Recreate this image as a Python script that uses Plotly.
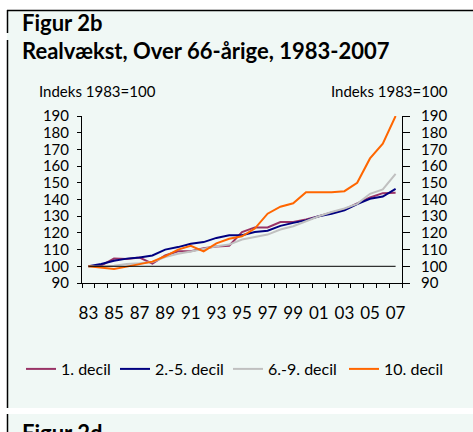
import plotly.graph_objects as go

# ---- data ----
years = list(range(1983, 2008))
decil_1 = [100, 100.4, 104.6, 104.4, 105.2, 101.6, 106.5, 109.0, 109.0, 110.8, 111.8, 112.3,
           120.5, 123.3, 123.3, 126.5, 126.6, 128.0, 130.0, 132.3, 134.0, 137.4, 141.2, 143.8, 144.0]
decil_2_5 = [100, 101.4, 103.3, 104.6, 105.3, 106.5, 110.0, 111.5, 113.5, 114.5, 117.0, 118.6,
             118.6, 120.5, 121.3, 124.2, 126.0, 127.5, 130.0, 131.5, 133.5, 137.3, 140.4, 141.8, 146.4]
decil_6_9 = [100, 99.8, 100.4, 101.4, 101.8, 102.6, 105.5, 107.5, 108.8, 110.3, 112.0, 113.0,
             116.0, 117.5, 119.0, 122.0, 124.0, 127.0, 130.0, 132.5, 134.6, 137.4, 143.4, 146.0, 155.4]
decil_10 = [100, 99.0, 98.4, 99.8, 101.4, 102.8, 106.0, 110.0, 112.3, 108.9, 113.7, 116.5,
            118.0, 122.6, 131.5, 135.7, 137.7, 144.4, 144.4, 144.4, 145.0, 150.0, 164.6, 173.4, 190.0]
base_index = 100
series_names = ["1. decil", "2.-5. decil", "6.-9. decil", "10. decil"]
tick_years = list(range(1983, 2008, 2))
tick_labels = ["83", "85", "87", "89", "91", "93", "95", "97", "99", "01", "03", "05", "07"]
y_ticks = list(range(90, 191, 10))

# ---- layout geometry (pixels) ----
W, H = 473, 432
L, R, T, B = 82, 71, 116, 149
PW, PH = W - L - R, H - T - B
BG = "#f0f8f5"
FONT = "Lato"


def px(xp):
    return (xp - L) / PW


def py(yp):
    return (H - B - yp) / PH


colors = ["#993366", "#000080", "#c0c0c0", "#ff6600"]
series = [decil_1, decil_2_5, decil_6_9, decil_10]
legend_ids = ["legend", "legend2", "legend3", "legend4"]
legend_text_x = [61, 155, 268, 384]

fig = go.Figure()
for name, vals, col, lg in zip(series_names, series, colors, legend_ids):
    fig.add_trace(go.Scatter(x=years, y=vals, name=name, mode="lines",
                             line=dict(color=col, width=2), legend=lg))

fig.add_trace(go.Scatter(x=years, y=[base_index] * len(years), mode="lines",
                         line=dict(color="black", width=1), showlegend=False,
                         hoverinfo="skip", yaxis="y2"))

shapes = [
    dict(type="rect", xref="paper", yref="paper", x0=px(0), x1=px(W), y0=py(0), y1=py(10),
         fillcolor="white", line_width=0, layer="below"),
    dict(type="rect", xref="paper", yref="paper", x0=px(0), x1=px(7), y0=py(0), y1=py(H),
         fillcolor="white", line_width=0, layer="below"),
    dict(type="rect", xref="paper", yref="paper", x0=px(0), x1=px(W), y0=py(408), y1=py(414),
         fillcolor="white", line_width=0, layer="below"),
    dict(type="line", xref="paper", yref="paper", x0=px(7), x1=px(W), y0=py(10.5), y1=py(10.5),
         line=dict(color="black", width=1.5)),
    dict(type="line", xref="paper", yref="paper", x0=px(7.5), x1=px(7.5), y0=py(10), y1=py(33),
         line=dict(color="black", width=1.5)),
    dict(type="line", xref="paper", yref="paper", x0=px(7.5), x1=px(7.5), y0=py(40), y1=py(408),
         line=dict(color="black", width=1.5)),
    dict(type="line", xref="paper", yref="paper", x0=px(7.5), x1=px(7.5), y0=py(414), y1=py(H),
         line=dict(color="black", width=1.5)),
]

annotations = [
    dict(text="<b>Figur 2b</b>", xref="paper", yref="paper", x=px(20), y=py(22),
         xanchor="left", yanchor="middle", showarrow=False,
         font=dict(family=FONT, size=22, color="black")),
    dict(text="<b>Realvækst, Over 66-årige, 1983-2007</b>", xref="paper", yref="paper",
         x=px(20), y=py(50), xanchor="left", yanchor="middle", showarrow=False,
         font=dict(family=FONT, size=22, color="black")),
    dict(text="Indeks 1983=100", xref="paper", yref="paper", x=px(37), y=py(91),
         xanchor="left", yanchor="middle", showarrow=False,
         font=dict(family=FONT, size=15, color="black")),
    dict(text="Indeks 1983=100", xref="paper", yref="paper", x=px(450), y=py(91),
         xanchor="right", yanchor="middle", showarrow=False,
         font=dict(family=FONT, size=15, color="black")),
    dict(text="<b>Figur 2d</b>", xref="paper", yref="paper", x=px(20), y=py(417),
         xanchor="left", yanchor="top", showarrow=False,
         font=dict(family=FONT, size=22, color="black")),
]

layout_kwargs = dict(
    width=W, height=H,
    margin=dict(l=L, r=R, t=T, b=B, pad=0, autoexpand=False),
    paper_bgcolor=BG, plot_bgcolor=BG,
    font=dict(family=FONT, size=16, color="black"),
    showlegend=True,
    xaxis=dict(range=[1982.5, 2007.5], tickmode="array", tickvals=tick_years,
               ticktext=tick_labels, ticks="", showline=True, linecolor="black", linewidth=1,
               showgrid=False, zeroline=False, ticklabelstandoff=15,
               tickfont=dict(family=FONT, size=17),
               minor=dict(tickmode="linear", tick0=1982.5, dtick=1, ticks="outside",
                          ticklen=4, tickcolor="black", tickwidth=1, showgrid=False)),
    yaxis=dict(range=[90, 190], tickmode="array", tickvals=y_ticks, ticks="outside",
               ticklen=4, tickcolor="black", showline=True, linecolor="black", linewidth=1,
               showgrid=False, zeroline=False, tickfont=dict(family=FONT, size=15),
               ticklabelstandoff=5),
    yaxis2=dict(range=[90, 190], tickmode="array", tickvals=y_ticks, ticks="outside",
                ticklen=7, tickcolor="black", showline=True, linecolor="black", linewidth=1,
                showgrid=False, zeroline=False, overlaying="y", side="right",
                tickfont=dict(family=FONT, size=15), ticklabelstandoff=8),
    shapes=shapes,
    annotations=annotations,
)
for lg, tx in zip(legend_ids, legend_text_x):
    layout_kwargs[lg] = dict(orientation="h", x=px(tx - 40), y=py(369), xanchor="left",
                             yanchor="middle", bgcolor="rgba(0,0,0,0)",
                             font=dict(family=FONT, size=16), itemwidth=30)

fig.update_layout(**layout_kwargs)
fig.write_html("out.html", config={"displayModeBar": False},
               post_script="document.body.style.margin='0';document.body.style.overflow='hidden';")
